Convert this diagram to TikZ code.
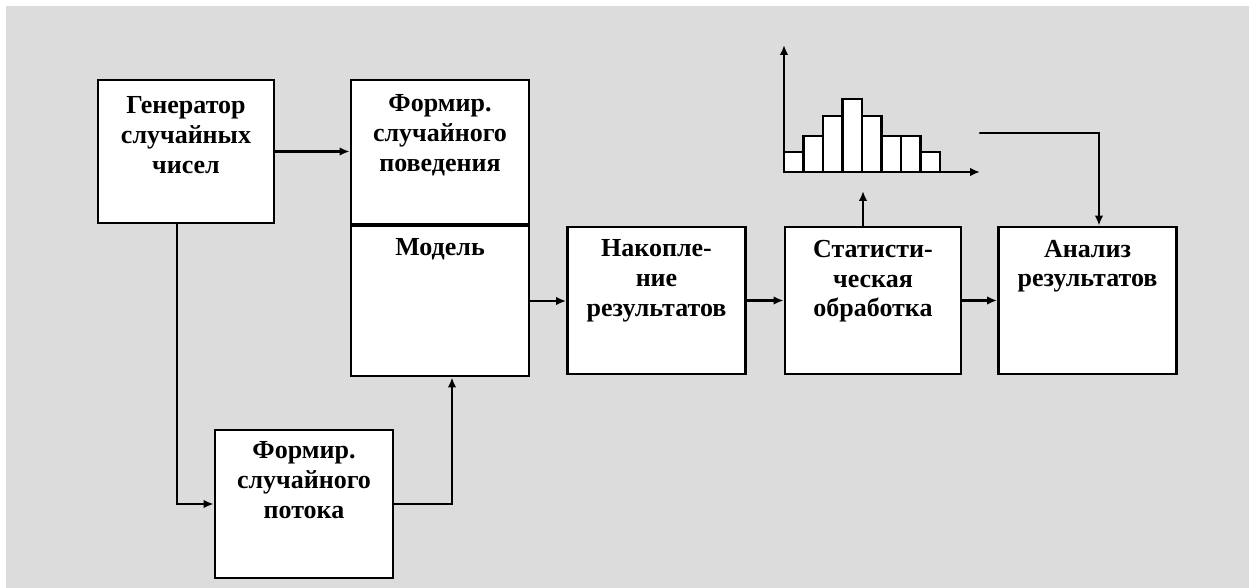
\documentclass[tikz,border=0pt]{standalone}
\usepackage{fontspec}
\setmainfont{Liberation Serif}
\usepackage{tikz}
\usetikzlibrary{arrows.meta, calc, positioning}
\definecolor{sheetGray}{RGB}{220,220,220}
\tikzset{
	blok/.style={draw=black, fill=white, line width=1.6pt, minimum width=3.56cm, minimum height=2.94cm, inner sep=0pt},
	blokText/.style={align=center, inner sep=0pt, font=\bfseries\fontsize{14.8}{17}\selectfont},
	arr/.style={line width=1.3pt, -{Latex[length=2mm, width=1.7mm]}},
	bar/.style={draw=black, fill=white, line width=1.3pt}
}
\def\px{0.02cm}

\begin{document}
\begin{tikzpicture}[x=\px, y=-\px, line cap=round]
	\useasboundingbox (0,0) rectangle (1249,588);
	\fill[white] (0,0) rectangle (1249,588);
	\fill[sheetGray] (6,6) rectangle (1249,588);

	\node[blok, minimum width=3.52cm, minimum height=2.86cm] (gen) at (186,151.5) {};
	\node[blok, minimum height=2.88cm] (beh) at (440,152) {};
	\node[blok, minimum height=3cm] (model) at (440,301) {};
	\node[blok] (acc) at (656.5,300.5) {};
	\node[blok, minimum width=3.52cm] (stat) at (873,300.5) {};
	\node[blok] (anl) at (1087.5,300.5) {};
	\node[blok, minimum height=2.96cm] (flow) at (304,504) {};

	\node[blokText, below=0.36cm of gen.north] (genText) {Генератор\\случайных\\чисел};
	\node[blokText, below=0.32cm of beh.north] (behText) {Формир.\\случайного\\поведения};
	\node[blokText, below=0.28cm of model.north] (modelText) {Модель};
	\node[blokText, below=0.28cm of acc.north] (accText) {Накопле-\\ние\\результатов};
	\node[blokText, below=0.28cm of stat.north] (statText) {Статисти-\\ческая\\обработка};
	\node[blokText, below=0.28cm of anl.north] (anlText) {Анализ\\результатов};
	\node[blokText, below=0.26cm of flow.north] (flowText) {Формир.\\случайного\\потока};

	\coordinate (orig) at (784,172);
	\coordinate (yTip) at (784,45);
	\coordinate (xTip) at (980,172);
	\coordinate (hin) at (863,191);
	\coordinate (hout) at (980,133);
	\foreach \h [count=\i from 0] in {20,36,56,73,56,36,36,20}
		\draw[bar] ($(orig)+(\i*19.5,0)$) rectangle ++(19.5,-\h);
	\draw[arr] (orig) -- (yTip);
	\draw[arr] (orig) -- (xTip);

	\draw[arr] (gen.east) -- (gen.east -| beh.west);
	\draw[arr] ([xshift=-0.18cm]gen.south) |- (flow.west);
	\draw[arr] (flow.east) -| ([xshift=0.24cm]model.south);
	\draw[arr] (model.east) -- (model.east -| acc.west);
	\draw[arr] (acc.east) -- (stat.west);
	\draw[arr] (stat.east) -- (anl.west);
	\draw[arr] (stat.north -| hin) -- (hin);
	\draw[arr] (hout) -| ([xshift=0.23cm]anl.north);

\end{tikzpicture}
\end{document}
